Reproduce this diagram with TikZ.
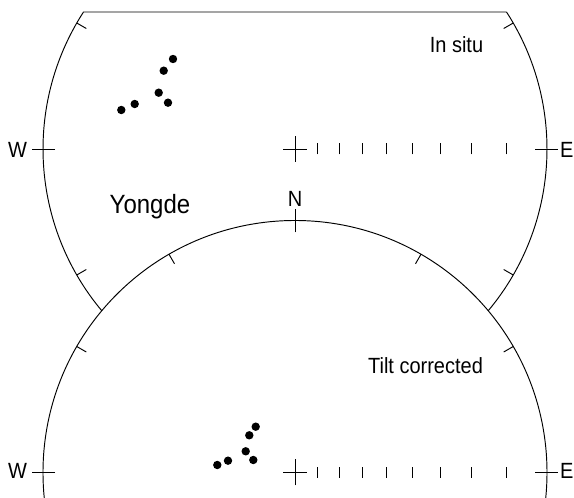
\documentclass[tikz,border=0pt]{standalone}
\usepackage{fontspec}
\setmainfont{Liberation Sans}
\newcommand{\tallt}[1]{\scalebox{1}[1.1]{#1}}
\tikzset{
  net/.style={line width=0.95pt, black},
  dot/.style={fill=black, draw=none},
  lbl/.style={inner sep=0pt, anchor=base, text=black, font=\fontsize{20}{24}\selectfont},
  biglbl/.style={inner sep=0pt, anchor=base, text=black, font=\fontsize{24}{28}\selectfont}
}
\begin{document}
\begin{tikzpicture}[x=1pt,y=1pt]
\useasboundingbox (0,0) rectangle (574,498);
\clip (0,0) rectangle (574,498);
\def\R{252}
\coordinate (T) at (295,349);
\coordinate (B) at (295,25.5);
% ---------- top net (In situ) ----------
\path (T) ++(147.07:\R) coordinate (TL);
\path (T) ++(32.93:\R) coordinate (TR);
\draw[net] (TR) -- (TL) arc[start angle=147.07, end angle=219.93, radius=\R];
\draw[net] (TR) arc[start angle=32.93, end angle=-39.93, radius=\R];
\foreach \a in {30,150,-30,-150}
  \draw[net] (T) ++(\a:\R) -- ++(\a+180:11);
\foreach \a in {0,180}
  \draw[net] (T) ++(\a:\R-12) -- ++(\a:23);
\draw[net] (T) ++(-12,0) -- ++(24,0);
\draw[net] (T) ++(0,-13) -- ++(0,26);
\foreach \k in {5,10,...,40}
  \draw[net] (T) ++({\R*tan(\k)},-5.5) -- ++(0,11);
% ---------- bottom net (Tilt corrected) ----------
\draw[net] (B) circle (\R);
\foreach \a in {30,60,120,150}
  \draw[net] (B) ++(\a:\R) -- ++(\a+180:11);
\foreach \a in {0,90,180}
  \draw[net] (B) ++(\a:\R-12) -- ++(\a:23);
\draw[net] (B) ++(-12,0) -- ++(24,0);
\draw[net] (B) ++(0,-13) -- ++(0,26);
\foreach \k in {5,10,...,40}
  \draw[net] (B) ++({\R*tan(\k)},-5.5) -- ++(0,11);
% ---------- data points ----------
\foreach \p in {(173,439),(163.7,427.3),(158.7,405.3),(168,395.3),(134.7,394),(121.3,388)}
  \fill[dot] \p circle (4.2);
\foreach \p in {(255.7,71.3),(249.3,62.7),(245.7,46.7),(253.3,38),(228,37.3),(217.3,33)}
  \fill[dot] \p circle (4.2);
% ---------- labels ----------
\node[lbl] (wtop) at (17.5,340.3) {\tallt{W}};
\node[lbl, anchor=base west] (etop) at (560,340.3) {\tallt{E}};
\node[lbl] (insitu) at (456.5,445.3) {\tallt{In situ}};
\node[biglbl] (yongde) at (150,284) {\tallt{Yongde}};
\node[lbl] (nlab) at (295,291.3) {\tallt{N}};
\node[lbl] (tilt) at (425.5,124.7) {\tallt{Tilt corrected}};
\node[lbl] (wbot) at (17.5,19) {\tallt{W}};
\node[lbl, anchor=base west] (ebot) at (560,19) {\tallt{E}};
\end{tikzpicture}
\end{document}
